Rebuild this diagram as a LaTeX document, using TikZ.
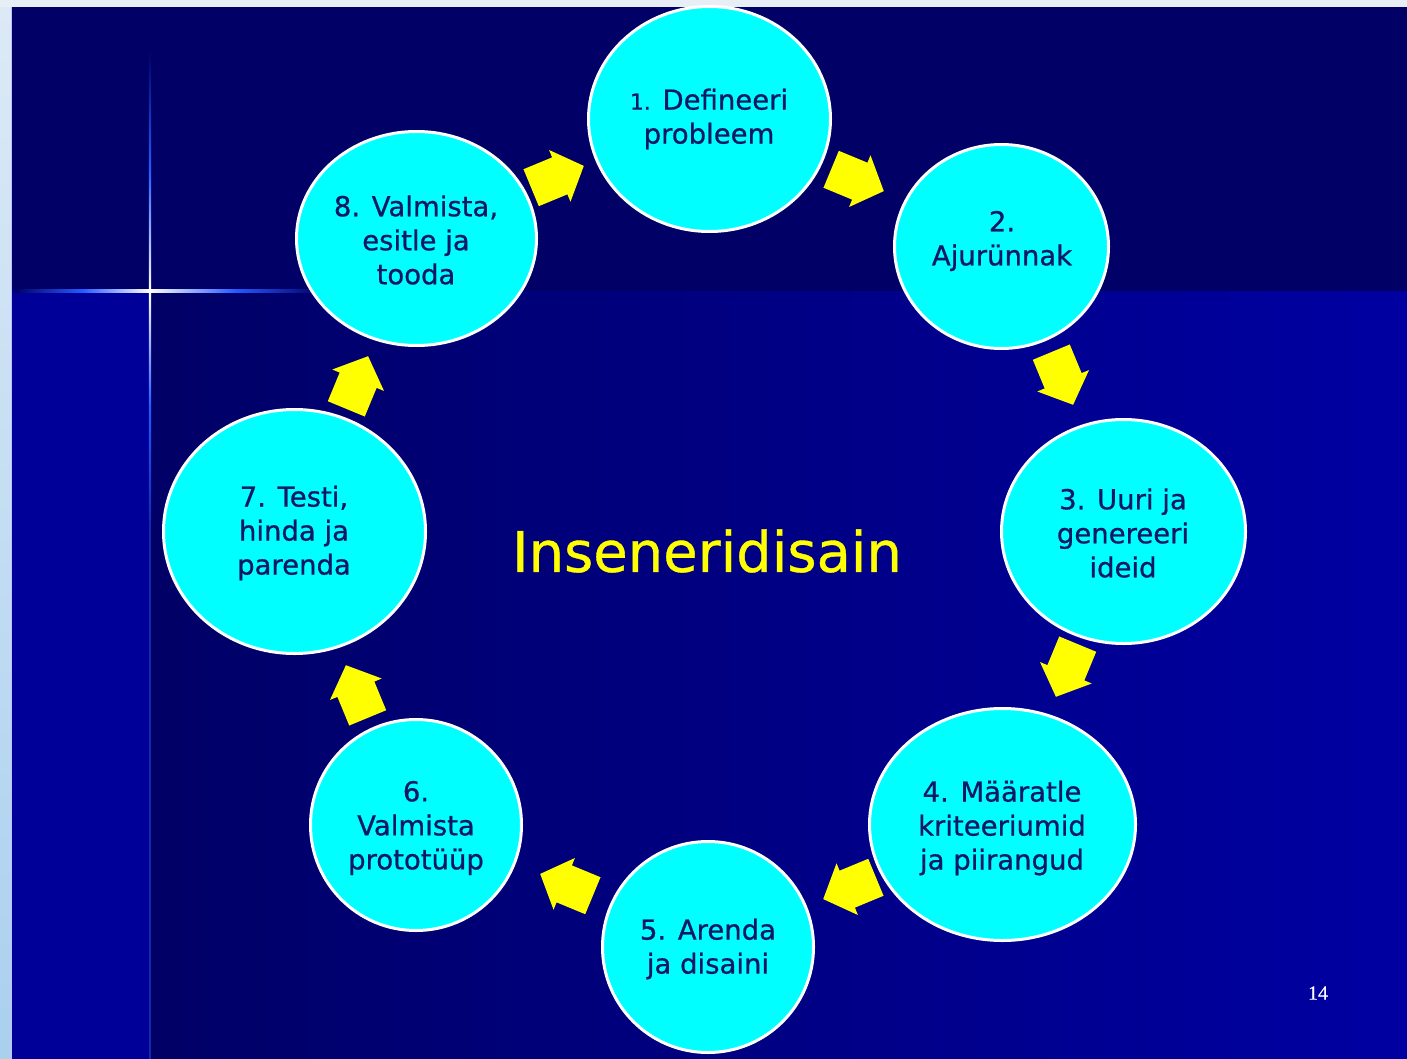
\documentclass[tikz,border=0pt]{standalone}
\usepackage{fontspec}
\setmainfont{DejaVu Sans}
\newfontfamily\stepfont[FakeBold=0.7]{DejaVu Sans}
\newfontfamily\numfont[FakeBold=0.6]{Liberation Serif}
\usetikzlibrary{shapes.geometric}
\definecolor{navy}{RGB}{0,0,102}
\definecolor{stripblue}{RGB}{0,0,153}
\definecolor{rightblue}{RGB}{0,0,162}
\definecolor{cyanfill}{RGB}{0,255,255}
\definecolor{txtblue}{RGB}{16,24,100}
\definecolor{arrowyellow}{RGB}{255,255,0}
\definecolor{starblue}{RGB}{40,90,255}
\definecolor{bordertop}{RGB}{232,238,246}
\definecolor{borderlight}{RGB}{220,234,246}
\definecolor{borderdark}{RGB}{170,208,238}
\tikzset{
  stepcircle/.style 2 args={ellipse, draw=white, line width=3pt, fill=cyanfill,
    inner sep=0pt, minimum width=#1, minimum height=#2},
  steptext/.style={text=txtblue, align=center, inner sep=0pt,
    font=\stepfont\fontsize{27.5}{34}\selectfont},
  titletext/.style={text=arrowyellow, inner sep=0pt, font=\stepfont\fontsize{56}{60}\selectfont},
  pagenum/.style={text=white, inner sep=0pt, font=\numfont\fontsize{20}{21}\selectfont},
  blockarrow/.pic={\fill[arrowyellow] (-28,-20) -- (3,-20) -- (3,-28) -- (29,0)
      -- (3,28) -- (3,20) -- (-28,20) -- cycle;}
}
\begin{document}
\begin{tikzpicture}[x=1pt,y=-1pt]
\useasboundingbox (0,0) rectangle (1407,1059);
% background
\shade[top color=borderlight, bottom color=borderdark] (0,0) rectangle (12,1059);
\fill[bordertop] (0,0) rectangle (1407,7);
\fill[navy] (12,7) rectangle (1407,291);
\fill[stripblue] (12,291) rectangle (149,1059);
\shade[left color=navy, right color=rightblue] (149,291) rectangle (1407,1059);
\fill[white!75!blue] (10.5,7) rectangle (12,1059);
% star
\shade[left color=navy, right color=white, middle color=starblue] (15,289.8) rectangle (150,292.2);
\shade[left color=white, right color=navy, middle color=starblue] (150,289.8) rectangle (320,292.2);
\shade[top color=navy, bottom color=white, middle color=starblue] (148.8,50) rectangle (151.2,291);
\shade[top color=white, bottom color=starblue!50!navy, middle color=starblue] (148.8,291) rectangle (151.2,520);
\fill[starblue!45!navy] (148.8,520) rectangle (151.2,1059);
% circles
\node[stepcircle={242pt}{225pt}] (c1) at (709.5,119) {};
\node[stepcircle={214pt}{204pt}] (c2) at (1001.5,246.5) {};
\node[stepcircle={244pt}{224pt}] (c3) at (1123.5,531.5) {};
\node[stepcircle={266pt}{232pt}] (c4) at (1002.5,824.5) {};
\node[stepcircle={211pt}{211pt}] (c5) at (708,947) {};
\node[stepcircle={211pt}{211pt}] (c6) at (416,825) {};
\node[stepcircle={262pt}{244pt}] (c7) at (294.5,531.5) {};
\node[stepcircle={240pt}{214pt}] (c8) at (416.5,238.5) {};
% texts
\node[steptext] (t1) at (709,119) {{\fontsize{22}{34}\selectfont 1.} Defineeri\\probleem};
\node[steptext] (t2) at (1002,241) {2.\\Ajurünnak};
\node[steptext] (t3) at (1123,533) {3. Uuri ja\\genereeri\\ideid};
\node[steptext] (t4) at (1002,828) {4. Määratle\\kriteeriumid\\ja piirangud};
\node[steptext] (t5) at (708,949) {5. Arenda\\ja disaini};
\node[steptext] (t6) at (416,828) {6.\\Valmista\\prototüüp};
\node[steptext] (t7) at (294,533) {7. Testi,\\hinda ja\\parenda};
\node[steptext] (t8) at (416,240) {8. Valmista,\\esitle ja\\tooda};
\node[titletext] (title) at (707,551) {Inseneridisain};
\node[pagenum] (page) at (1318,993) {14};
% arrows
\coordinate (a12) at (857,180);
\coordinate (a23) at (1062,378);
\coordinate (a34) at (1067,670);
\coordinate (a45) at (850,888);
\coordinate (a56) at (567,885);
\coordinate (a67) at (357,692);
\coordinate (a78) at (357,383);
\coordinate (a81) at (557,177);
\pic[rotate=-22.5] at (a12) {blockarrow};
\pic[rotate=-67.5] at (a23) {blockarrow};
\pic[rotate=-112.5] at (a34) {blockarrow};
\pic[rotate=-157.5] at (a45) {blockarrow};
\pic[rotate=-202.5] at (a56) {blockarrow};
\pic[rotate=-247.5] at (a67) {blockarrow};
\pic[rotate=-292.5] at (a78) {blockarrow};
\pic[rotate=-337.5] at (a81) {blockarrow};
\end{tikzpicture}
\end{document}
